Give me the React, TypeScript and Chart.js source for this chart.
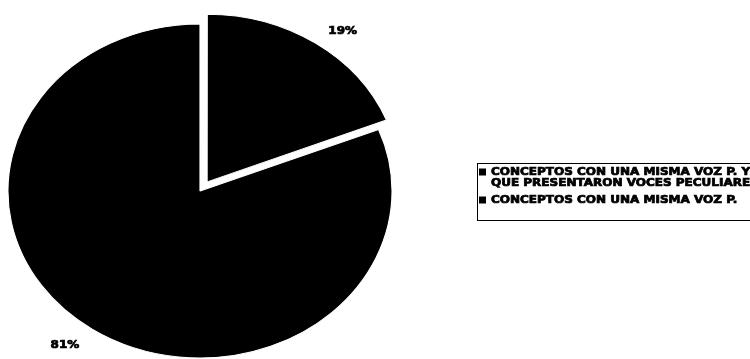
import React, { useEffect, useRef } from "react";
import { Chart, registerables } from "chart.js";

Chart.register(...registerables);

// ---- data ----
const categories: string[][] = [
  ["CONCEPTOS CON UNA MISMA VOZ P. Y", "QUE PRESENTARON VOCES PECULIARES"],
  ["CONCEPTOS CON UNA MISMA VOZ P."],
];
const values: number[] = [19, 81];
const pctLabels: string[] = ["19%", "81%"];
const sliceOffsets: number[] = [44, 0];

// ---- style constants ----
const SX = 1.15; // horizontal stretch of the pie (elliptical look)
const TEXT_SX = 1.2; // horizontal stretch of the wide bold font
const FONT = 'bold 10px "DejaVu Sans"';

function drawStretchedText(ctx: CanvasRenderingContext2D, text: string, x: number, y: number, align: "left" | "center") {
  ctx.save();
  ctx.translate(x, y);
  ctx.scale(TEXT_SX, 1);
  ctx.textAlign = align;
  ctx.textBaseline = "middle";
  ctx.lineWidth = 0.7;
  ctx.strokeStyle = "#000";
  ctx.strokeText(text, 0, 0);
  ctx.fillText(text, 0, 0);
  ctx.restore();
}

const stretchPlugin = {
  id: "stretch",
  beforeDatasetsDraw(chart: any) {
    const arc = chart.getDatasetMeta(0).data[0];
    const ctx = chart.ctx;
    ctx.save();
    ctx.translate(arc.x, arc.y);
    ctx.scale(SX, 1);
    ctx.translate(-arc.x, -arc.y);
  },
  afterDatasetsDraw(chart: any) {
    chart.ctx.restore();
  },
};

const labelPlugin = {
  id: "pctLabels",
  afterDraw(chart: any) {
    const ctx = chart.ctx as CanvasRenderingContext2D;
    const meta = chart.getDatasetMeta(0);
    ctx.save();
    ctx.fillStyle = "#000";
    ctx.font = FONT;
    meta.data.forEach((arc: any, i: number) => {
      const { startAngle, endAngle, x, y, outerRadius, circumference } = arc;
      const mid = (startAngle + endAngle) / 2;
      const off = (arc.options.offset || 0) / 4;
      const fix = 1 - Math.sin(Math.min(Math.PI, circumference || 0));
      const offDist = off * (1 + fix);
      const a = mid + (3.5 * Math.PI) / 180;
      const r = outerRadius * 1.15;
      const ux = Math.cos(mid) * offDist + Math.cos(a) * r;
      const uy = Math.sin(mid) * offDist + Math.sin(a) * r;
      drawStretchedText(ctx, pctLabels[i], x + ux * SX, y + uy + 2, "center");
    });
    ctx.restore();
  },
};

const legendPlugin = {
  id: "boxLegend",
  afterDraw(chart: any) {
    const ctx = chart.ctx as CanvasRenderingContext2D;
    const labels: string[][] = chart.data.labels;
    const boxLeft = 477.5;
    const boxTop = 163.5;
    const boxBottom = 220.5;
    ctx.save();
    ctx.strokeStyle = "#000";
    ctx.lineWidth = 1;
    ctx.strokeRect(boxLeft, boxTop, 760 - boxLeft, boxBottom - boxTop);
    ctx.fillStyle = "#000";
    ctx.font = FONT;
    let y = 172;
    labels.forEach((lines: string[]) => {
      ctx.fillRect(479, y - 3.5, 7, 7);
      lines.forEach((line: string, j: number) => {
        drawStretchedText(ctx, line, 491, y, "left");
        y += j < lines.length - 1 ? 11 : 17;
      });
    });
    ctx.restore();
  },
};

export default function App() {
  const ref = useRef<HTMLCanvasElement | null>(null);
  useEffect(() => {
    if (!ref.current) return;
    const chart = new Chart(ref.current, {
      type: "pie",
      data: {
        labels: categories as any,
        datasets: [
          {
            data: values,
            backgroundColor: ["#000000", "#000000"],
            borderColor: "#ffffff",
            borderWidth: 1,
            offset: sliceOffsets,
            clip: false as any,
          },
        ],
      },
      options: {
        animation: false,
        responsive: false,
        radius: 167,
        layout: { padding: { left: 0, right: 350, top: 23, bottom: 0 } },
        plugins: {
          legend: { display: false },
          tooltip: { enabled: false },
        },
      } as any,
      plugins: [stretchPlugin, labelPlugin, legendPlugin],
    });
    return () => chart.destroy();
  }, []);
  return (
    <div style={{ position: "fixed", left: 0, top: 0, width: 750, height: 359, background: "#fff" }}>
      <canvas ref={ref} width={750} height={359} style={{ width: 750, height: 359, display: "block" }} />
    </div>
  );
}
